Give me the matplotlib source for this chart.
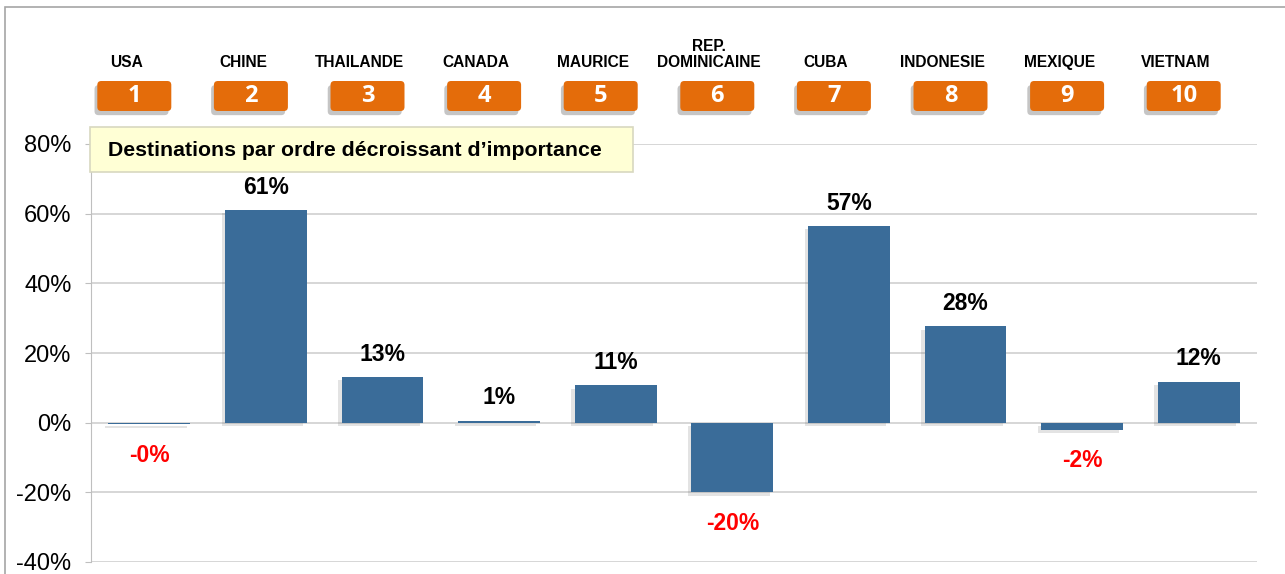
import numpy as np
import matplotlib.pyplot as plt
import matplotlib.patheffects as pe
from matplotlib.patches import FancyBboxPatch, Rectangle

pays = ["USA", "CHINE", "THAILANDE", "CANADA", "MAURICE", "REP.\nDOMINICAINE",
        "CUBA", "INDONESIE", "MEXIQUE", "VIETNAM"]
rangs = ["1", "2", "3", "4", "5", "6", "7", "8", "9", "10"]
variation = [-0.4, 61.1, 13.2, 0.6, 10.8, -20.0, 56.5, 27.7, -2.1, 11.8]
etiquettes = ["-0%", "61%", "13%", "1%", "11%", "-20%", "57%", "28%", "-2%", "12%"]
yticks = [-40, -20, 0, 20, 40, 60, 80]

plt.rcParams['font.family'] = ['Liberation Sans', 'DejaVu Sans']

W, H = 1285, 574
fig = plt.figure(figsize=(W / 100, H / 100), dpi=100)
ax = fig.add_axes([91 / W, 12 / H, 1166 / W, 418 / H])

# cadre gris autour du graphique
fig.add_artist(Rectangle((5 / W, -0.1), 1.2, 1 - 7 / H + 0.1, transform=fig.transFigure,
                         fill=False, edgecolor="#A6A6A6", linewidth=1.2))

x = np.arange(len(pays))
shadow = [pe.SimplePatchShadow(offset=(-2.5, -2.5), shadow_rgbFace="#808080", alpha=0.22), pe.Normal()]
bars = ax.bar(x, variation, width=0.7, color="#3A6C99", zorder=3)
for b in bars:
    b.set_path_effects(shadow)

for xi, v, lab in zip(x, variation, etiquettes):
    if v >= 0:
        ax.annotate(lab, (xi, v), xytext=(0, 8), textcoords="offset points", ha="center",
                    va="bottom", fontsize=16.5, fontweight="bold", color="black")
    else:
        ax.annotate(lab, (xi, v), xytext=(0, -14), textcoords="offset points", ha="center",
                    va="top", fontsize=16.5, fontweight="bold", color="#FF0000")

ax.set_xlim(-0.5, len(pays) - 0.5)
ax.set_ylim(-40, 80)
ax.set_yticks(yticks)
ax.set_yticklabels([f"{t}%" for t in yticks], fontsize=17)
ax.set_xticks([])
ax.grid(axis="y", color="#D0D0D0", linewidth=1.2, zorder=0)
ax.tick_params(axis="y", length=4, color="#BFBFBF", pad=10)
for s in ["top", "right", "bottom"]:
    ax.spines[s].set_visible(False)
ax.spines["left"].set_color("#BFBFBF")

# cases orange numérotées et noms des pays au-dessus (positions en pouces)
fig.canvas.draw()
inch = fig.dpi_scale_trans
for xi, nom, r in zip(x, pays, rangs):
    cx = ax.transData.transform((xi, 0))[0] / 100
    bx = cx - 0.15
    box = FancyBboxPatch((bx - 0.37, (H - 111) / 100), 0.74, 0.30,
                         boxstyle="round,pad=0,rounding_size=0.04", transform=inch,
                         facecolor="#E46C0A", edgecolor="none", clip_on=False)
    box.set_path_effects([pe.SimplePatchShadow(offset=(-2, -3), shadow_rgbFace="#404040", alpha=0.3),
                          pe.Normal()])
    fig.add_artist(box)
    fig.text(bx, (H - 96) / 100, r, transform=inch, ha="center", va="center",
             fontsize=17, fontweight="bold", color="white", family=['Open Sans', 'DejaVu Sans'])
    fig.text(cx - 0.23, (H - 67) / 100, nom, transform=inch, ha="center", va="baseline",
             fontsize=11.2, fontweight="bold", color="black", linespacing=1.1)

# encadré légende
fig.add_artist(Rectangle((90 / 100, (H - 172) / 100), 5.43, 0.45, transform=inch,
                         facecolor="#FFFFD5", edgecolor="#D8D8C0", linewidth=1.2, zorder=6))
fig.text(108 / 100, (H - 150) / 100, "Destinations par ordre décroissant d’importance",
         transform=inch, ha="left", va="center", fontsize=15.3, fontweight="bold", zorder=7)

fig.savefig("out.png", dpi=100)
